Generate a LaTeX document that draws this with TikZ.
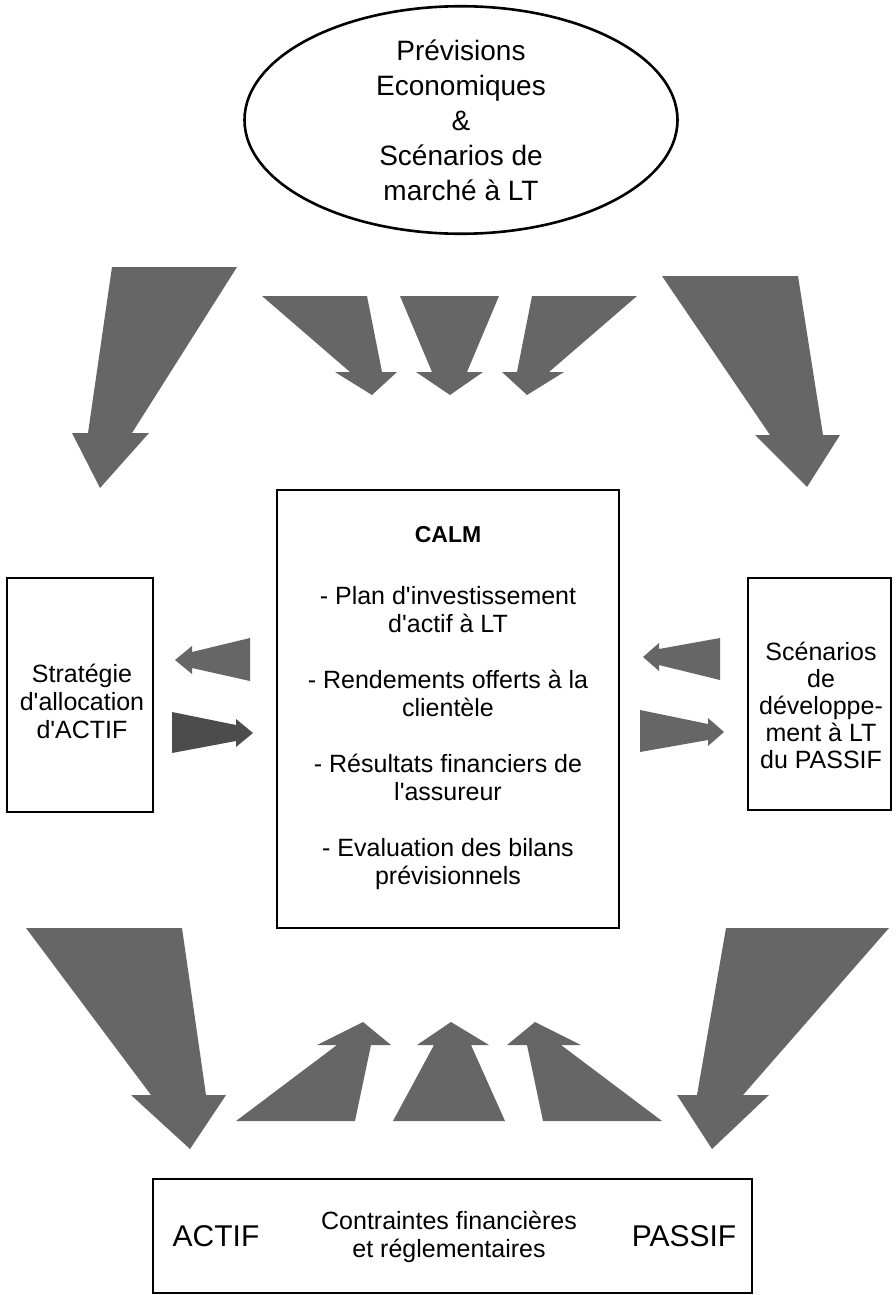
\documentclass[tikz,border=0pt]{standalone}
\usepackage{fontspec}
\setmainfont{Liberation Sans}[Ligatures=TeXOff]
\usetikzlibrary{shapes.geometric}
\newcommand{\fbody}{\fontsize{25}{28}\selectfont}
\begin{document}
\begin{tikzpicture}[x=1pt,y=-1pt,
  box/.style={draw, line width=1.8pt, inner sep=0pt, align=center},
  fat/.style={fill=black!60, draw=none},
  fatdark/.style={fill=black!70, draw=none},
  txt/.style={inner sep=0pt, align=center}]
\fill[white] (0,0) rectangle (896,1295);
\useasboundingbox (0,0) rectangle (896,1295);

% ellipse
\node[ellipse, draw, line width=2.6pt, minimum width=433pt, minimum height=220pt,
      inner sep=0pt, align=center, font=\fontsize{28}{35}\selectfont]
  (prev) at (461,120) {Prévisions\\Economiques\\\&\\Scénarios de\\marché à LT};

% boxes
\node[box, minimum width=342pt, minimum height=438pt] (calm) at (448,709) {};
\node[txt, font=\fbody] (calmtxt) at (448,708)
  {{\bfseries\fontsize{23}{28}\selectfont CALM}\\[34pt]
   - Plan d'investissement\\ d'actif à LT\\[28pt]
   - Rendements offerts à la\\ clientèle\\[28pt]
   - Résultats financiers de\\ l'assureur\\[28pt]
   - Evaluation des bilans\\ prévisionnels};

\node[box, minimum width=146pt, minimum height=234pt] (strat) at (80,695) {};
\node[txt, font=\fbody] (strattxt) at (82,701) {Stratégie\\d'allocation\\d'ACTIF};
\node[box, minimum width=143pt, minimum height=232pt] (scen) at (819.5,694) {};
\node[txt, font=\fontsize{25}{27}\selectfont] (scentxt) at (821,705)
  {Scénarios\\de\\développe-\\ment à LT\\du PASSIF};

\node[box, minimum width=599pt, minimum height=114pt] (bot) at (452.5,1236) {};
\node[txt, font=\fontsize{30}{34}\selectfont] (actif) at (216,1236) {ACTIF};
\node[txt, font=\fbody] (contr) at (449,1237) {Contraintes financières\\et réglementaires};
\node[txt, font=\fontsize{30}{34}\selectfont] (passif) at (684,1236) {PASSIF};

% top arrows
\fill[fat] (112,267) -- (237,267) -- (132,433) -- (149,433) -- (100,488) -- (72,433) -- (88,433) -- cycle;
\fill[fat] (662,276) -- (798,276) -- (823,435) -- (840,435) -- (807,487) -- (755,435) -- (770,435) -- cycle;
\fill[fat] (262,296) -- (367,296) -- (382,372) -- (397,372) -- (372,395) -- (335,372) -- (350,372) -- cycle;
\fill[fat] (400,296) -- (499,296) -- (467,372) -- (483,372) -- (450,395) -- (416,372) -- (432,372) -- cycle;
\fill[fat] (532,296) -- (637,296) -- (549,372) -- (564,372) -- (527,395) -- (502,372) -- (517,372) -- cycle;

% side arrows
\fill[fat] (250,638) -- (250,681) -- (192,668) -- (192,674) -- (175,660) -- (192,646) -- (192,652) -- cycle;
\fill[fatdark] (172,712) -- (172,753) -- (236,741) -- (236,747) -- (253,733) -- (236,719) -- (236,725) -- cycle;
\fill[fat] (720,638) -- (720,680) -- (659,665) -- (659,671) -- (643,657) -- (659,643) -- (659,649) -- cycle;
\fill[fat] (640,710) -- (640,752) -- (708,740) -- (708,746) -- (724,732) -- (708,718) -- (708,724) -- cycle;

% bottom arrows
\fill[fat] (26,928) -- (182,928) -- (206,1095) -- (226,1095) -- (190,1149) -- (131,1095) -- (151,1095) -- cycle;
\fill[fat] (726,928) -- (889,928) -- (743,1095) -- (769,1095) -- (712,1149) -- (677,1095) -- (697,1095) -- cycle;
\fill[fat] (236,1121) -- (355,1121) -- (371,1045) -- (391,1045) -- (363,1022) -- (317,1045) -- (337,1045) -- cycle;
\fill[fat] (393,1121) -- (505,1121) -- (471,1045) -- (489,1045) -- (451,1022) -- (417,1045) -- (434,1045) -- cycle;
\fill[fat] (543,1121) -- (662,1121) -- (561,1045) -- (581,1045) -- (535,1022) -- (507,1045) -- (527,1045) -- cycle;
\end{tikzpicture}
\end{document}
